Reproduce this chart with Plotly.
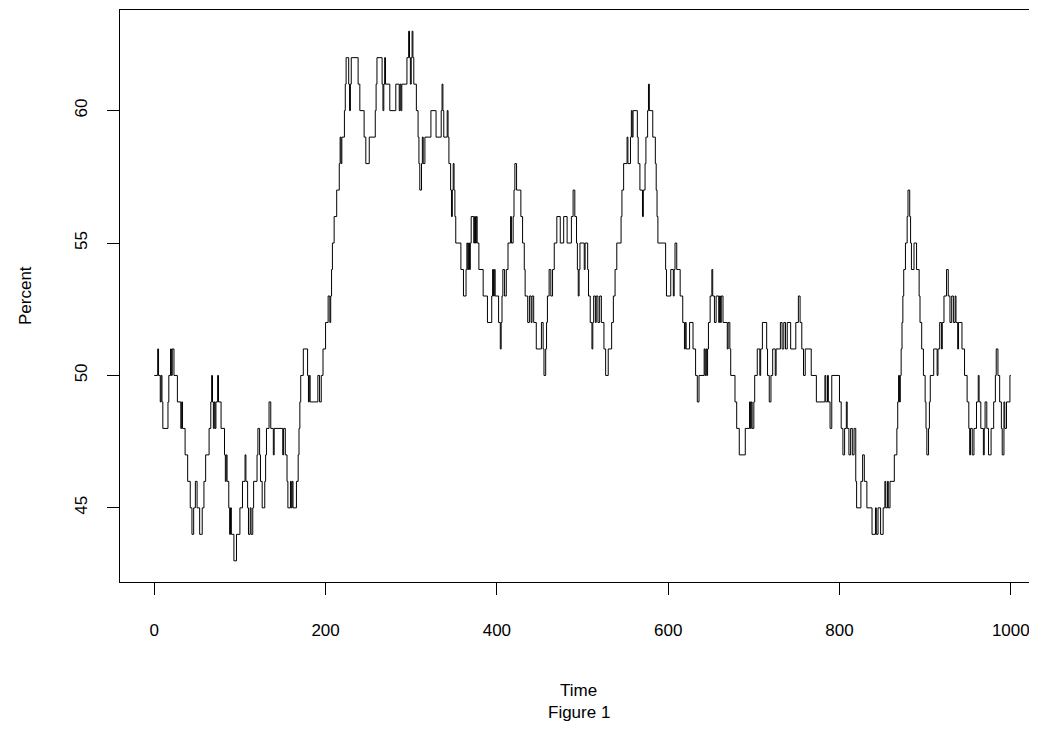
import plotly.graph_objects as go

# Breakpoints of the path: from time t the percent takes value v (step path)
time = [0,4,5,7,8,9,10,16,17,19,20,21,23,27,31,32,33,36,39,42,44,46,48,50,53,56,58,60,64,66,67,68,69,70,71,72,74,75,78,82,83,84,85,87,88,89,90,93,96,
        100,103,106,107,109,110,112,113,115,116,120,121,123,124,126,129,130,131,134,136,139,140,150,151,153,155,156,159,160,161,162,166,168,169,170,171,174,179,180,181,182,191,193,195,197,
        200,203,205,206,207,208,210,213,216,217,218,219,222,223,224,227,228,229,230,238,240,245,247,251,258,259,260,266,267,268,269,270,275,282,286,287,288,289,295,297,298,299,
        300,301,302,303,306,308,309,310,312,313,314,316,323,329,335,336,337,338,342,343,344,346,347,348,349,350,351,352,358,361,364,365,366,367,368,369,370,373,374,375,376,377,379,384,389,394,395,396,397,398,
        402,404,405,406,407,409,411,413,416,417,419,420,421,423,428,430,432,433,436,438,440,441,443,446,452,454,455,457,458,459,461,463,465,467,470,474,478,482,487,489,491,493,494,495,496,497,
        502,503,506,507,509,511,512,513,515,516,518,520,522,525,527,530,534,536,538,540,545,546,548,552,553,556,557,558,559,564,565,567,570,571,573,574,576,577,578,582,585,586,587,588,597,598,
        603,606,607,608,610,614,617,619,620,621,625,629,632,634,636,642,643,644,645,646,647,649,651,652,654,656,659,660,661,662,664,669,670,672,673,678,680,683,690,695,696,697,698,
        700,701,704,707,708,710,715,716,718,720,722,725,726,731,733,735,737,739,743,749,752,754,756,758,760,767,773,783,784,786,787,789,791,
        800,802,804,806,808,809,811,813,815,817,819,820,825,827,829,832,838,842,843,845,848,851,853,854,856,857,859,864,867,868,869,870,871,872,873,874,875,877,879,880,882,883,884,887,890,893,894,896,898,
        900,901,902,904,905,906,910,914,915,917,919,920,922,925,927,929,931,933,935,936,938,939,943,946,949,951,952,953,955,957,960,962,963,965,968,969,970,972,974,977,980,982,983,985,987,989,990,992,993,995,999,1000]
percent = [50,51,50,49,50,49,48,49,50,51,50,51,50,49,48,49,48,47,46,45,44,45,46,45,44,45,46,47,48,49,50,49,48,49,48,49,50,49,48,47,46,47,46,45,44,45,44,43,44,
           45,46,47,46,45,44,45,44,45,46,47,48,47,46,45,46,47,48,49,48,47,48,47,48,47,46,45,46,45,46,45,46,47,48,49,50,51,50,49,50,49,50,49,50,51,
           52,53,52,53,54,55,56,57,58,59,58,59,60,61,62,61,60,61,62,61,60,59,58,59,60,61,62,61,60,61,62,61,60,61,60,61,60,61,62,63,62,61,
           62,63,62,61,60,59,58,57,58,59,58,59,60,59,60,61,60,59,60,59,58,57,56,57,58,57,56,55,54,53,54,55,54,55,54,55,56,55,56,55,56,55,54,53,52,53,54,53,54,53,
           52,51,52,53,54,53,54,55,56,55,56,57,58,57,56,55,54,53,52,53,52,53,52,51,52,51,50,51,52,53,54,53,54,55,56,55,56,55,56,57,56,55,54,53,54,55,
           54,55,54,53,52,51,52,53,52,53,52,53,52,51,50,51,52,53,54,55,56,57,58,59,58,59,60,59,60,59,58,57,56,57,58,59,60,61,60,59,58,57,56,55,54,53,
           54,53,54,55,54,53,52,51,52,51,52,51,50,49,50,51,50,51,50,51,52,53,54,53,52,53,52,53,52,53,52,51,52,51,50,49,48,47,48,49,48,49,48,
           49,50,51,50,51,52,51,50,49,50,51,50,51,52,51,52,51,52,51,52,53,52,51,50,51,50,49,50,49,50,49,48,50,
           49,48,47,48,49,48,47,48,47,48,46,45,46,47,46,45,44,45,44,45,44,45,46,45,46,45,46,47,48,49,50,49,50,51,52,53,54,55,56,57,56,55,54,55,54,53,52,51,50,
           49,48,47,48,49,50,51,50,51,52,51,52,53,54,53,52,53,52,53,52,51,52,51,50,49,48,47,48,47,48,49,50,49,48,47,48,49,48,47,48,49,50,51,50,49,48,47,49,48,49,50,50]

x_ticks = [0, 200, 400, 600, 800, 1000]
y_ticks = [45, 50, 55, 60]

FONT = "Liberation Sans, Arial, Helvetica, sans-serif"

fig = go.Figure()
fig.add_trace(go.Scatter(x=time, y=percent, mode="lines", line=dict(color="black", width=1, shape="hv"),
                         hoverinfo="skip", showlegend=False))

fig.update_layout(
    width=1029, height=715,
    margin=dict(l=112, r=0, t=2, b=141),
    plot_bgcolor="white", paper_bgcolor="white",
    font=dict(family=FONT, size=17, color="black"),
    xaxis=dict(range=[-40, 1030.6], tickvals=x_ticks, ticks="outside", ticklen=12, tickwidth=1, tickcolor="black",
               showline=True, linecolor="black", linewidth=1, mirror=True, showgrid=False, zeroline=False,
               tickfont=dict(size=17), ticklabelstandoff=21, ticklabeloverflow="allow"),
    yaxis=dict(range=[42.2, 63.8], tickvals=y_ticks, ticks="outside", ticklen=12, tickwidth=1, tickcolor="black",
               showline=True, linecolor="black", linewidth=1, mirror=True, showgrid=False, zeroline=False,
               tickangle=-90, tickfont=dict(size=17), ticklabelstandoff=13),
    annotations=[
        dict(text="Time", x=0.5, y=0, xref="paper", yref="paper", xanchor="center", yanchor="middle",
             yshift=-108, showarrow=False, font=dict(size=17)),
        dict(text="Figure 1", x=0.5, y=0, xref="paper", yref="paper", xanchor="center", yanchor="middle",
             yshift=-130, showarrow=False, font=dict(size=17)),
        dict(text="Percent", x=0, y=0.5, xref="paper", yref="paper", xanchor="center", yanchor="middle",
             xshift=-95, textangle=-90, showarrow=False, font=dict(size=17)),
    ],
)

fig.write_html("out.html")
